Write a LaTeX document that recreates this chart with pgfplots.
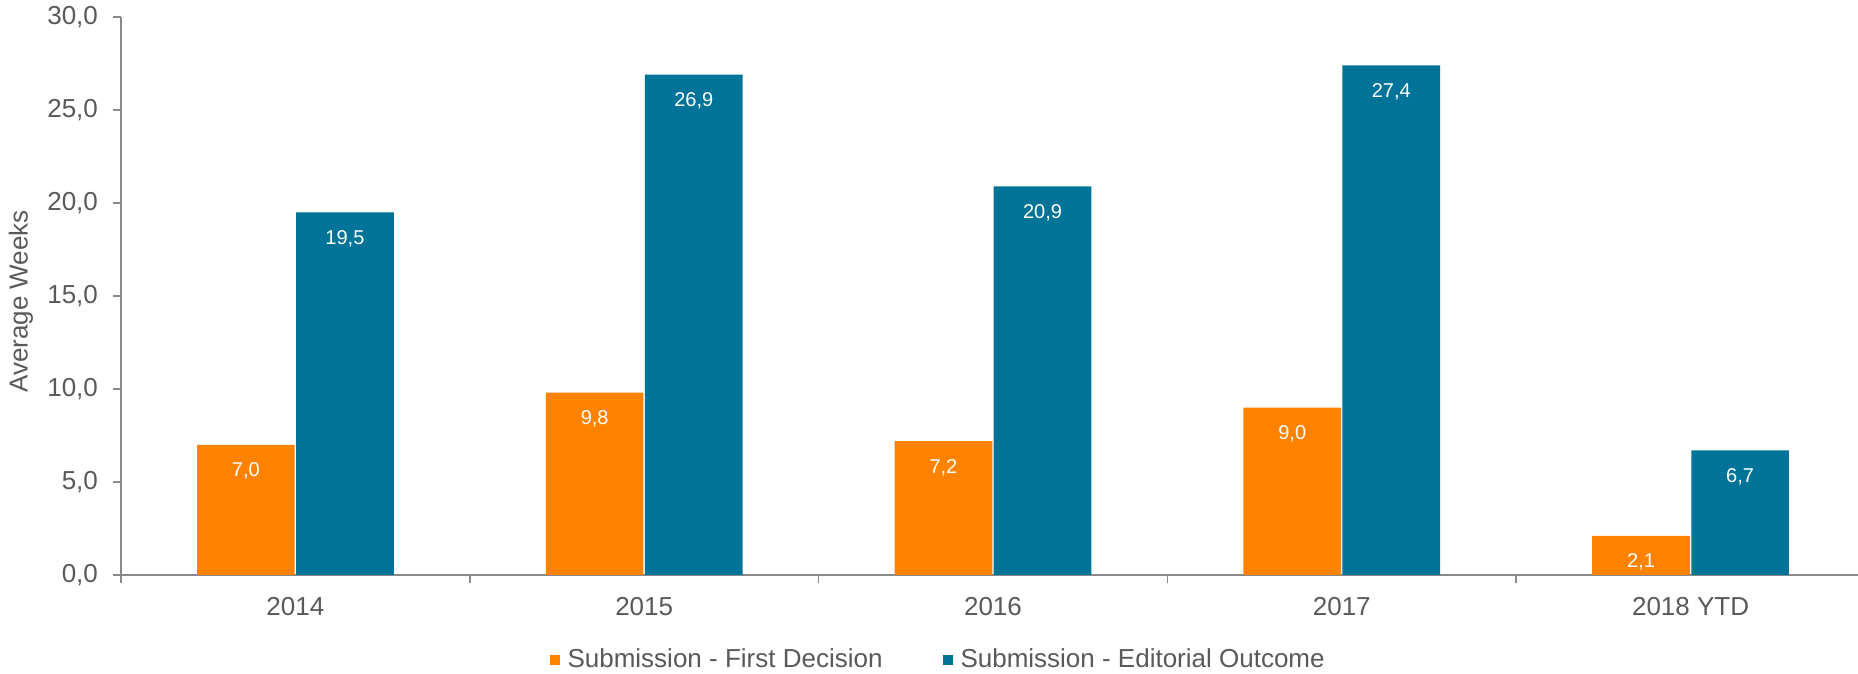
\documentclass[border=0pt]{standalone}
\usepackage{pgfplots}
\pgfplotsset{compat=1.18}
\usepackage{fontspec}
\setmainfont{Liberation Sans}
\definecolor{cOrange}{RGB}{255,131,0}
\definecolor{cBlue}{RGB}{0,115,152}
\definecolor{txt}{RGB}{89,89,89}
\definecolor{axg}{RGB}{137,137,137}
\begin{document}
\begin{tikzpicture}
\path[use as bounding box] (0,0) rectangle (929pt,337pt);
\begin{axis}[
  at={(60.5pt,49.5pt)}, anchor=south west,
  scale only axis, width=868.5pt, height=279pt,
  xmin=-0.5, xmax=4.48, ymin=0, ymax=30,
  axis lines*=left,
  axis line style={axg, line width=0.8pt},
  ybar=0.7pt, bar width=0.28,
  every axis plot/.append style={draw=none},
  xtick={0,1,2,3,4},
  xticklabels={2014,2015,2016,2017,2018 YTD},
  major x tick style={draw=none},
  minor xtick={-0.5,0.5,1.5,2.5,3.5},
  minor x tick style={axg, line width=0.8pt},
  minor tick length=4pt,
  ytick={0,5,...,30},
  ytick style={axg, line width=0.8pt},
  major tick length=4pt,
  tick align=outside,
  /pgf/number format/assume math mode=true,
  yticklabel={\pgfmathprintnumber[fixed,fixed zerofill,precision=1,use comma]{\tick}},
  tick label style={font=\fontsize{13}{15.6}\selectfont, text=txt},
  xticklabel style={yshift=-3.5pt},
  yticklabel style={xshift=-4pt},
  ylabel={Average Weeks},
  ylabel style={at={(axis description cs:-0.0576,0.49)}, anchor=center, font=\fontsize{13}{15.6}\selectfont, text=txt},
  nodes near coords={\pgfmathprintnumber[fixed,fixed zerofill,precision=1,use comma,assume math mode=true]{\pgfplotspointmeta}},
  nodes near coords style={anchor=north, yshift=-5.5pt, text=white, font=\fontsize{10}{12}\selectfont},
  legend columns=2,
  legend style={at={(axis description cs:0.471,-0.152)}, anchor=center, draw=none, fill=none,
    font=\fontsize{13}{15.6}\selectfont, text=txt,
    /tikz/every even column/.append style={column sep=28pt}},
  legend image code/.code={\fill[#1] (0pt,-2.5pt) rectangle (5pt,2.5pt); \path (7pt,0pt);},
]
\addplot[fill=cOrange] coordinates {(0,7.0) (1,9.8) (2,7.2) (3,9.0) (4,2.1)};
\addlegendentry{Submission - First Decision}
\addplot[fill=cBlue] coordinates {(0,19.5) (1,26.9) (2,20.9) (3,27.4) (4,6.7)};
\addlegendentry{Submission - Editorial Outcome}
\end{axis}
\end{tikzpicture}
\end{document}
